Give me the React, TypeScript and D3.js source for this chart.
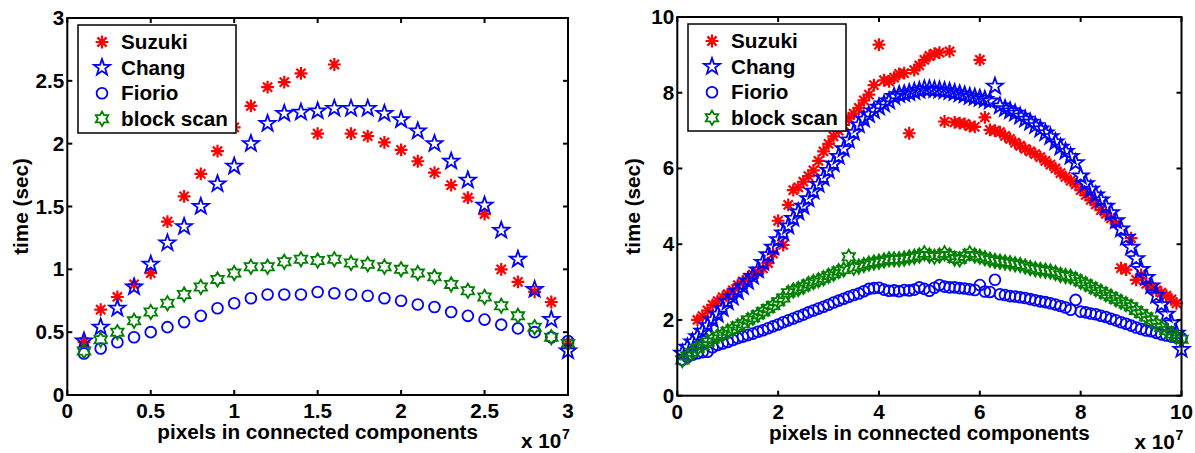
import React from "react";
import * as d3 from "d3";

// ---------- data ----------
const seriesNames = ["Suzuki", "Chang", "Fiorio", "block scan"];

const leftX = [0.1,0.2,0.3,0.4,0.5,0.6,0.7,0.8,0.9,1.0,1.1,1.2,1.3,1.4,1.5,1.6,1.7,1.8,1.9,2.0,2.1,2.2,2.3,2.4,2.5,2.6,2.7,2.8,2.9,3.0];
const leftSuzuki = [0.42,0.68,0.78,0.88,0.97,1.38,1.58,1.76,1.94,2.13,2.30,2.45,2.49,2.56,2.08,2.63,2.08,2.06,2.01,1.95,1.86,1.77,1.67,1.57,1.44,1.00,0.90,0.82,0.74,0.41];
const leftChang = [0.43,0.54,0.69,0.86,1.04,1.21,1.34,1.50,1.68,1.82,2.00,2.16,2.24,2.25,2.26,2.28,2.28,2.28,2.24,2.19,2.10,2.00,1.86,1.71,1.51,1.31,1.08,0.84,0.60,0.35];
const leftFiorio = [0.33,0.37,0.42,0.46,0.50,0.54,0.58,0.63,0.69,0.73,0.77,0.80,0.80,0.80,0.82,0.81,0.80,0.79,0.77,0.75,0.72,0.70,0.66,0.63,0.60,0.56,0.53,0.50,0.46,0.43];
const leftBlock = [0.35,0.44,0.50,0.59,0.66,0.73,0.80,0.86,0.92,0.97,1.02,1.02,1.06,1.08,1.07,1.08,1.05,1.04,1.02,1.00,0.97,0.94,0.88,0.83,0.78,0.71,0.63,0.54,0.46,0.41];

const rightX = [0.1,0.2,0.3,0.4,0.5,0.6,0.7,0.8,0.9,1.0,1.1,1.2,1.3,1.4,1.5,1.6,1.7,1.8,1.9,2.0,2.1,2.2,2.3,2.4,2.5,2.6,2.7,2.8,2.9,3.0,3.1,3.2,3.3,3.4,3.5,3.6,3.7,3.8,3.9,4.0,4.1,4.2,4.3,4.4,4.5,4.6,4.7,4.8,4.9,5.0,5.1,5.2,5.3,5.4,5.5,5.6,5.7,5.8,5.9,6.0,6.1,6.2,6.3,6.4,6.5,6.6,6.7,6.8,6.9,7.0,7.1,7.2,7.3,7.4,7.5,7.6,7.7,7.8,7.9,8.0,8.1,8.2,8.3,8.4,8.5,8.6,8.7,8.8,8.9,9.0,9.1,9.2,9.3,9.4,9.5,9.6,9.7,9.8,9.9,10.0];
const rightSuzuki = [null,null,null,2.0,2.1,2.25,2.4,2.5,2.6,2.68,2.78,2.92,3.02,3.12,3.2,3.26,3.36,3.5,3.75,4.62,3.98,5.04,5.43,5.5,5.65,5.8,5.95,6.2,6.45,6.65,6.85,7.0,7.15,7.33,7.45,7.6,7.8,7.95,8.2,9.27,8.33,8.3,8.4,8.5,8.52,6.93,8.6,8.72,8.87,8.97,9.03,9.06,7.24,9.09,7.22,7.2,7.18,7.12,7.1,8.87,7.35,7.02,7.0,6.96,6.86,6.78,6.68,6.6,6.52,6.45,6.38,6.3,6.2,6.1,6.0,5.88,5.78,5.68,5.58,5.43,5.3,5.17,5.05,4.9,4.8,4.68,4.55,3.37,3.33,4.16,3.06,3.19,2.95,2.86,2.78,2.72,2.64,2.54,2.44,null];
const rightChang = [1.12,1.28,1.42,1.56,1.7,1.85,2.0,2.15,2.3,2.48,2.6,2.75,2.88,3.02,3.15,3.32,3.52,3.72,3.92,4.12,4.3,4.48,4.68,4.85,5.0,5.2,5.4,5.58,5.75,5.95,6.12,6.32,6.52,6.75,6.95,7.15,7.3,7.42,7.52,7.62,7.7,7.78,7.9,7.95,7.97,8.0,8.03,8.06,8.1,8.1,8.08,8.07,8.05,8.03,8.0,7.97,7.94,7.9,7.88,7.85,7.82,7.78,8.17,7.65,7.58,7.52,7.46,7.38,7.3,7.22,7.13,7.04,6.94,6.84,6.7,6.56,6.45,6.32,6.15,5.8,5.6,5.45,5.3,5.17,5.0,4.83,4.62,4.4,4.18,3.92,3.62,3.33,3.12,2.9,2.65,2.4,2.15,1.92,1.65,1.22];
const rightFiorio = [0.95,1.02,1.08,1.12,1.15,1.16,1.28,1.34,1.38,1.42,1.47,1.52,1.56,1.6,1.64,1.69,1.73,1.78,1.83,1.88,1.94,1.99,2.04,2.09,2.14,2.2,2.25,2.3,2.35,2.4,2.46,2.51,2.56,2.61,2.66,2.7,2.76,2.82,2.84,2.85,2.8,2.77,2.78,2.76,2.79,2.78,2.8,2.86,2.82,2.77,2.85,2.92,2.88,2.86,2.86,2.84,2.83,2.81,2.79,2.92,2.75,2.74,3.06,2.68,2.66,2.63,2.62,2.6,2.58,2.55,2.52,2.49,2.47,2.44,2.41,2.37,2.33,2.27,2.53,2.22,2.2,2.17,2.15,2.11,2.08,2.03,1.99,1.94,1.9,1.85,1.8,1.76,1.72,1.7,1.66,1.62,1.59,1.56,1.54,1.52];
const rightBlock = [0.94,1.05,1.15,1.25,1.32,1.42,1.5,1.57,1.62,1.7,1.76,1.84,1.9,2.0,2.06,2.14,2.22,2.3,2.38,2.48,2.58,2.72,2.78,2.82,2.88,2.95,3.0,3.05,3.1,3.17,3.22,3.29,3.33,3.67,3.38,3.41,3.45,3.49,3.52,3.54,3.57,3.6,3.6,3.6,3.62,3.65,3.67,3.7,3.76,3.7,3.67,3.7,3.76,3.7,3.62,3.6,3.68,3.76,3.7,3.67,3.63,3.59,3.56,3.54,3.52,3.5,3.47,3.45,3.41,3.37,3.34,3.32,3.3,3.28,3.24,3.19,3.16,3.14,3.08,3.01,2.95,2.88,2.81,2.75,2.68,2.62,2.55,2.48,2.42,2.35,2.25,2.17,2.08,2.0,1.9,1.8,1.72,1.63,1.55,1.49];

const leftTicks = [0, 0.5, 1, 1.5, 2, 2.5, 3];
const rightTicks = [0, 2, 4, 6, 8, 10];

const colors = ["#ff0000", "#0000ff", "#0000ff", "#008000"];
const markerTypes = ["asterisk", "pentagram", "circle", "hexagram"];

// ---------- markers ----------
function starPath(n: number, R: number, r: number) {
  const pts: string[] = [];
  for (let i = 0; i < 2 * n; i++) {
    const a = -Math.PI / 2 + (i * Math.PI) / n;
    const rad = i % 2 === 0 ? R : r;
    pts.push(`${(rad * Math.cos(a)).toFixed(2)},${(rad * Math.sin(a)).toFixed(2)}`);
  }
  return "M" + pts.join("L") + "Z";
}
const pentaD = starPath(5, 8.5, 8.5 * 0.4);
const hexaD = starPath(6, 7.2, 7.2 * 0.577);

function Marker({ type, x, y, color }: { type: string; x: number; y: number; color: string }) {
  if (type === "circle") {
    return <circle cx={x} cy={y} r={5.4} fill="none" stroke={color} strokeWidth={1.8} />;
  }
  if (type === "pentagram") {
    return <path d={pentaD} transform={`translate(${x},${y})`} fill="none" stroke={color} strokeWidth={1.8} />;
  }
  if (type === "hexagram") {
    return <path d={hexaD} transform={`translate(${x},${y})`} fill="none" stroke={color} strokeWidth={1.8} />;
  }
  const R = 6.4, d = 6.4 * 0.72;
  return (
    <path
      d={`M${-R},0H${R}M0,${-R}V${R}M${-d},${-d}L${d},${d}M${-d},${d}L${d},${-d}`}
      transform={`translate(${x},${y})`}
      stroke={color}
      strokeWidth={2.2}
      fill="none"
    />
  );
}

// ---------- panel ----------
type PanelProps = {
  left: number; right: number; top: number; bottom: number;
  max: number; ticks: number[]; xs: number[]; series: (number | null)[][];
  legend: { x: number; y: number; w: number; h: number };
  ylabelX: number;
};

const FONT = "'Liberation Sans', Arial, Helvetica, sans-serif";
const FS = 20.7;

function Panel(p: PanelProps) {
  const x = d3.scaleLinear().domain([0, p.max]).range([p.left, p.right]);
  const y = d3.scaleLinear().domain([0, p.max]).range([p.bottom, p.top]);
  const tl = 5;
  const lg = p.legend;
  return (
    <g fontFamily={FONT} fontWeight="bold">
      {p.series.map((vals, si) => (
        <g key={si}>
          {vals.map((v, i) =>
            v == null ? null : (
              <Marker key={i} type={markerTypes[si]} x={x(p.xs[i])} y={y(v)} color={colors[si]} />
            )
          )}
        </g>
      ))}
      <rect x={p.left} y={p.top} width={p.right - p.left} height={p.bottom - p.top} fill="none" stroke="#000" strokeWidth={2} />
      {p.ticks.map((t) => (
        <g key={"x" + t}>
          <line x1={x(t)} x2={x(t)} y1={p.bottom} y2={p.bottom - tl} stroke="#000" strokeWidth={2} />
          <line x1={x(t)} x2={x(t)} y1={p.top} y2={p.top + tl} stroke="#000" strokeWidth={2} />
          <text x={x(t)} y={p.bottom + 23} textAnchor="middle" fontSize={FS}>{String(t)}</text>
        </g>
      ))}
      {p.ticks.map((t) => (
        <g key={"y" + t}>
          <line x1={p.left} x2={p.left + tl} y1={y(t)} y2={y(t)} stroke="#000" strokeWidth={2} />
          <line x1={p.right} x2={p.right - tl} y1={y(t)} y2={y(t)} stroke="#000" strokeWidth={2} />
          <text x={p.left - 3} y={y(t) + 7} textAnchor="end" fontSize={FS}>{String(t)}</text>
        </g>
      ))}
      <text x={(p.left + p.right) / 2} y={p.bottom + 44} textAnchor="middle" fontSize={FS}>pixels in connected components</text>
      <text x={p.right - 47} y={p.bottom + 53} fontSize={FS}>x 10</text>
      <text x={p.right - 6} y={p.bottom + 44} fontSize={14}>7</text>
      <text transform={`translate(${p.ylabelX},${(p.top + p.bottom) / 2}) rotate(-90)`} textAnchor="middle" fontSize={FS}>time (sec)</text>
      <rect x={lg.x} y={lg.y} width={lg.w} height={lg.h} fill="#fff" stroke="#000" strokeWidth={1.5} />
      {seriesNames.map((nm, i) => {
        const cy = lg.y + 17 + i * 25.6;
        return (
          <g key={nm}>
            <Marker type={markerTypes[i]} x={lg.x + 24} y={cy} color={colors[i]} />
            <text x={lg.x + 43} y={cy + 7} fontSize={FS}>{nm}</text>
          </g>
        );
      })}
    </g>
  );
}

export default function App() {
  return (
    <div style={{ position: "absolute", left: 0, top: 0 }}>
      <svg width={1195} height={453} style={{ display: "block", background: "#fff" }}>
        <rect width={1195} height={453} fill="#fff" />
        <Panel
          left={67.3} right={568} top={18} bottom={395}
          max={3} ticks={leftTicks} xs={leftX}
          series={[leftSuzuki, leftChang, leftFiorio, leftBlock]}
          legend={{ x: 78, y: 25, w: 158, h: 108 }}
          ylabelX={28}
        />
        <Panel
          left={677.3} right={1181.5} top={17} bottom={395.7}
          max={10} ticks={rightTicks} xs={rightX}
          series={[rightSuzuki, rightChang, rightFiorio, rightBlock]}
          legend={{ x: 688, y: 24, w: 158, h: 107 }}
          ylabelX={640}
        />
      </svg>
    </div>
  );
}
